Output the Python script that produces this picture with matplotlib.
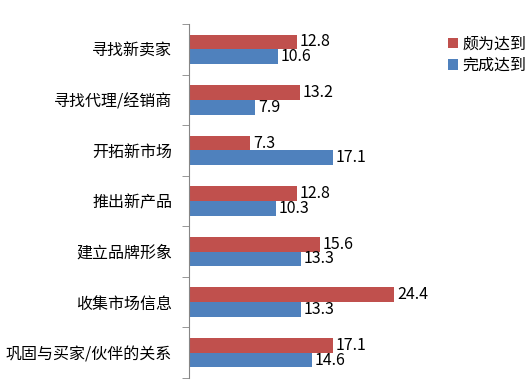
import matplotlib

matplotlib.use("Agg")
import matplotlib.pyplot as plt
import numpy as np

plt.rcParams["font.family"] = ["Noto Sans CJK SC", "DejaVu Sans"]

categories = ["寻找新卖家", "寻找代理/经销商", "开拓新市场", "推出新产品",
              "建立品牌形象", "收集市场信息", "巩固与买家/伙伴的关系"]
series_names = ["颇为达到", "完成达到"]
quite_reached = [12.8, 13.2, 7.3, 12.8, 15.6, 24.4, 17.1]
fully_reached = [10.6, 7.9, 17.1, 10.3, 13.3, 13.3, 14.6]
colors = ["#C0504D", "#4F81BD"]

fig = plt.figure(figsize=(5.32, 3.81), dpi=100)
ax = fig.add_axes([0.355, 0.008, 0.475, 0.929])

y = np.arange(len(categories))
h = 0.29
b1 = ax.barh(y - h / 2, quite_reached, height=h, color=colors[0], label=series_names[0])
b2 = ax.barh(y + h / 2, fully_reached, height=h, color=colors[1], label=series_names[1])

for bars, vals in ((b1, quite_reached), (b2, fully_reached)):
    for bar, v in zip(bars, vals):
        ax.text(bar.get_width() + 0.3, bar.get_y() + bar.get_height() / 2, f"{v:.1f}",
                va="center", ha="left", fontsize=11.5, color="black")

ax.set_xlim(0, 30)
ax.set_ylim(len(categories) - 0.5, -0.5)
ax.set_yticks(y)
ax.set_yticklabels(categories, fontsize=11.5)
ax.tick_params(axis="y", which="major", length=0, pad=12)
ax.set_yticks(np.arange(len(categories) + 1) - 0.5, minor=True)
ax.tick_params(axis="y", which="minor", length=5, color="#868686", direction="out")
ax.set_xticks([])
for s in ("top", "right", "bottom"):
    ax.spines[s].set_visible(False)
ax.spines["left"].set_color("#868686")

fig.legend(handles=[b1, b2], labels=series_names, loc="upper left",
           bbox_to_anchor=(0.815, 0.945), frameon=False, fontsize=11.5,
           handlelength=0.6, handleheight=0.6, handletextpad=0.3, labelspacing=0.3)

fig.savefig("out.png", dpi=100)
